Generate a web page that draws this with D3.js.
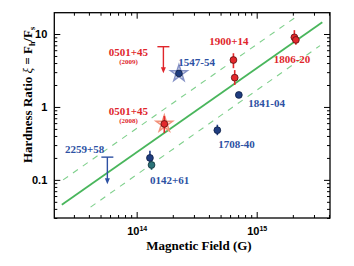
<!DOCTYPE html>
<html>
<head>
<meta charset="utf-8">
<script src="https://cdn.jsdelivr.net/npm/d3@7"></script>
<style>
    html, body { margin: 0; padding: 0; background: #fff; }
    svg { display: block; font-family: "Liberation Serif", "Times New Roman", serif; font-weight: bold; }
</style>
</head>
<body>
<div id="chart"></div>
<script>
// measured points: magnetic field (G) vs hardness ratio
var pointSource = ["0142+61", "0142+61", "0501+45", "1547-54", "1708-40", "1841-04", "1900+14", "1900+14", "1806-20", "1806-20"];
var pointField  = [1.29e14, 1.33e14, 1.70e14, 2.25e14, 4.7e14, 7.1e14, 6.4e14, 6.56e14, 2.06e15, 2.12e15];
var pointRatio  = [0.20, 0.16, 0.585, 2.88, 0.48, 1.46, 4.4, 2.52, 9.0, 8.3];
var pointLow    = [0.17, 0.137, 0.44, 2.88, 0.41, 1.46, 3.4, 2.0, 8.0, 7.1];
var pointHigh   = [0.25, 0.19, 0.75, 2.88, 0.57, 1.46, 5.45, 3.2, 11.3, 9.6];
var pointKind   = ["blue", "teal", "red", "blue", "blue", "blue", "red", "red", "red", "red"];
var pointStar   = [false, false, true, true, false, false, false, false, false, false];

// upper limits
var limitSource = ["2259+58", "0501+45 (2009)"];
var limitField  = [5.7e13, 1.67e14];
var limitTop    = [0.205, 6.7];
var limitTip    = [0.087, 2.9];
var limitKind   = ["blue", "red"];

// best fit and factor-of-two band, endpoints
var fitField   = [2.38e13, 3.52e15];
var fitRatio   = [0.0455, 14.45];
var upperField = [2.44e13, 2.10e15];
var upperRatio = [0.100, 16.9];
var lowerField = [4.13e13, 3.37e15];
var lowerRatio = [0.0423, 6.92];

// labels
var labelText   = ["0501+45", "0501+45", "1547-54", "1900+14", "1806-20", "1841-04", "1708-40", "0142+61", "2259+58"];
var labelSub    = ["(2009)", "(2008)", "", "", "", "", "", "", ""];
var labelField  = [8.55e13, 8.55e13, 2.22e14, 5.87e14, 1.97e15, 8.51e14, 4.78e14, 1.29e14, 3.69e13];
var labelRatio  = [5.0, 0.776, 3.68, 7.06, 3.97, 1.01, 0.272, 0.088, 0.232];
var labelAnchor = ["middle", "middle", "start", "middle", "middle", "start", "start", "start", "middle"];
var labelKind   = ["red", "red", "blue", "red", "red", "blue", "blue", "blue", "blue"];

var xDomain = [2.06e13, 4.08e15];
var yDomain = [0.030, 19.6];

(function () {

    var width = 354, height = 266,
        left = 54.3, right = 330, top = 12.7, bottom = 218;

    var textColor = {red: "#e0262b", blue: "#2d51a3"},
        dotFill = {red: "#e3282c", blue: "#1f3d80", teal: "#2b7378"},
        dotStroke = {red: "#5a0f10", blue: "#0e1f45", teal: "#10303a"};

    var x = d3.scaleLog().domain(xDomain).range([left, right]),
        y = d3.scaleLog().domain(yDomain).range([bottom, top]);

    var svg = d3.select("#chart").append("svg")
        .attr("width", width)
        .attr("height", height);

    svg.append("rect").attr("width", width).attr("height", height).style("fill", "#fff");

    function isMajor(v) {
        var l = Math.log10(v);
        return Math.abs(l - Math.round(l)) < 1e-6;
    }

    function drawAxis(axis, pos, transform, labels, sign) {
        var g = svg.append("g")
            .attr("transform", transform)
            .call(axis.tickSizeInner(-6).tickSizeOuter(0).tickPadding(labels ? 6 : 0));
        g.select(".domain").remove();
        g.selectAll(".tick line")
            .style("stroke", "#000")
            .style("stroke-width", 1)
            .attr(pos, function (d) { return sign * (isMajor(d) ? 6 : 3); });
        g.selectAll(".tick text").remove();
        return g;
    }

    var xTicks = x.ticks(), yTicks = y.ticks();

    var gx = drawAxis(d3.axisBottom(x).tickValues(xTicks), "y2", "translate(0," + bottom + ")", true, -1);
    drawAxis(d3.axisTop(x).tickValues(xTicks), "y2", "translate(0," + top + ")", false, 1);
    var gy = drawAxis(d3.axisLeft(y).tickValues(yTicks), "x2", "translate(" + left + ",0)", true, 1);
    drawAxis(d3.axisRight(y).tickValues(yTicks), "x2", "translate(" + right + ",0)", false, -1);

    // x tick labels: 10^n
    gx.selectAll(".tick").filter(isMajor).append("text")
        .attr("y", 17)
        .attr("fill", "#000")
        .style("font-size", "11px")
        .style("text-anchor", "middle")
        .each(function (d) {
            var t = d3.select(this);
            t.append("tspan").text("10");
            t.append("tspan").attr("dy", -4).style("font-size", "7px").text(Math.round(Math.log10(d)));
        });

    gy.selectAll(".tick").filter(isMajor).append("text")
        .attr("x", -7)
        .attr("dy", "0.35em")
        .attr("fill", "#000")
        .style("font-size", "11px")
        .style("text-anchor", "end")
        .text(function (d) { return d >= 1 ? d3.format("d")(d) : d3.format(".1f")(d); });

    svg.append("rect")
        .attr("x", left).attr("y", top)
        .attr("width", right - left).attr("height", bottom - top)
        .style("fill", "none")
        .style("stroke", "#000")
        .style("stroke-width", 1.3);

    // axis titles
    svg.append("text")
        .attr("x", 199).attr("y", 250)
        .style("font-size", "13px")
        .style("text-anchor", "middle")
        .text("Magnetic Field (G)");

    var yt = svg.append("text")
        .attr("transform", "translate(32,95) rotate(-90)")
        .style("font-size", "13px")
        .style("text-anchor", "middle");
    yt.append("tspan").text("Hardness Ratio ");
    yt.append("tspan").style("font-style", "italic").style("font-weight", "normal").text("ξ");
    yt.append("tspan").text(" = F");
    yt.append("tspan").attr("dy", 3).style("font-size", "8px").text("h");
    yt.append("tspan").attr("dy", -3).text("/F");
    yt.append("tspan").attr("dy", 3).style("font-size", "8px").text("s");

    // fit lines
    var line = d3.line()
        .x(function (d) { return x(d[0]); })
        .y(function (d) { return y(d[1]); });

    var plot = svg.append("g");

    plot.append("path")
        .datum(d3.zip(upperField, upperRatio))
        .attr("d", line)
        .style("fill", "none").style("stroke", "#7fd08c").style("stroke-width", 1.1)
        .style("stroke-dasharray", "6,6");
    plot.append("path")
        .datum(d3.zip(lowerField, lowerRatio))
        .attr("d", line)
        .style("fill", "none").style("stroke", "#7fd08c").style("stroke-width", 1.1)
        .style("stroke-dasharray", "6,6");
    plot.append("path")
        .datum(d3.zip(fitField, fitRatio))
        .attr("d", line)
        .style("fill", "none").style("stroke", "#49b65c").style("stroke-width", 1.8);

    // upper limits
    var limits = d3.range(limitField.length);
    var lg = plot.selectAll("g.limit").data(limits).enter().append("g").classed("limit", true);
    lg.append("line")
        .attr("x1", function (i) { return x(limitField[i]) - 6; })
        .attr("x2", function (i) { return x(limitField[i]) + 6; })
        .attr("y1", function (i) { return y(limitTop[i]); })
        .attr("y2", function (i) { return y(limitTop[i]); })
        .style("stroke", function (i) { return textColor[limitKind[i]]; })
        .style("stroke-width", 1.4);
    lg.append("line")
        .attr("x1", function (i) { return x(limitField[i]); })
        .attr("x2", function (i) { return x(limitField[i]); })
        .attr("y1", function (i) { return y(limitTop[i]); })
        .attr("y2", function (i) { return y(limitTip[i]) - 3; })
        .style("stroke", function (i) { return textColor[limitKind[i]]; })
        .style("stroke-width", 1.4);
    lg.append("path")
        .attr("d", function (i) {
            var cx = x(limitField[i]), ty = y(limitTip[i]);
            return "M" + (cx - 2.5) + "," + (ty - 6) + "L" + (cx + 2.5) + "," + (ty - 6) + "L" + cx + "," + ty + "Z";
        })
        .style("fill", function (i) { return textColor[limitKind[i]]; });

    var pts = d3.range(pointField.length);

    // stars behind the dots
    plot.selectAll("path.star").data(pts.filter(function (i) { return pointStar[i]; }))
        .enter().append("path")
        .classed("star", true)
        .attr("transform", function (i) { return "translate(" + x(pointField[i]) + "," + y(pointRatio[i]) + ")"; })
        .attr("d", d3.symbol().type(d3.symbolStar).size(85))
        .style("fill", function (i) { return pointKind[i] === "red" ? "#fbd2c2" : "#dfe4f3"; })
        .style("fill-opacity", 0.8)
        .style("stroke", function (i) { return pointKind[i] === "red" ? "#f2917a" : "#8592c6"; })
        .style("stroke-width", 1.5);

    // error bars
    plot.selectAll("line.err").data(pts.filter(function (i) { return pointHigh[i] > pointLow[i]; }))
        .enter().append("line")
        .classed("err", true)
        .attr("x1", function (i) { return x(pointField[i]); })
        .attr("x2", function (i) { return x(pointField[i]); })
        .attr("y1", function (i) { return y(pointHigh[i]); })
        .attr("y2", function (i) { return y(pointLow[i]); })
        .style("stroke", function (i) { return dotFill[pointKind[i]]; })
        .style("stroke-width", 1.6);

    plot.selectAll("circle.pt").data(pts)
        .enter().append("circle")
        .classed("pt", true)
        .attr("cx", function (i) { return x(pointField[i]); })
        .attr("cy", function (i) { return y(pointRatio[i]); })
        .attr("r", 3.4)
        .style("fill", function (i) { return dotFill[pointKind[i]]; })
        .style("stroke", function (i) { return dotStroke[pointKind[i]]; })
        .style("stroke-width", 0.8);

    // source names
    var lt = plot.selectAll("text.lab").data(d3.range(labelText.length))
        .enter().append("text")
        .classed("lab", true)
        .attr("x", function (i) { return x(labelField[i]); })
        .attr("y", function (i) { return y(labelRatio[i]); })
        .style("font-size", "11px")
        .style("text-anchor", function (i) { return labelAnchor[i]; })
        .style("fill", function (i) { return textColor[labelKind[i]]; });
    lt.append("tspan").text(function (i) { return labelText[i]; });
    lt.filter(function (i) { return labelSub[i]; })
        .append("tspan")
        .attr("x", function (i) { return x(labelField[i]); })
        .attr("dy", 8)
        .style("font-size", "7px")
        .text(function (i) { return labelSub[i]; });
}());
</script>
</body>
</html>
